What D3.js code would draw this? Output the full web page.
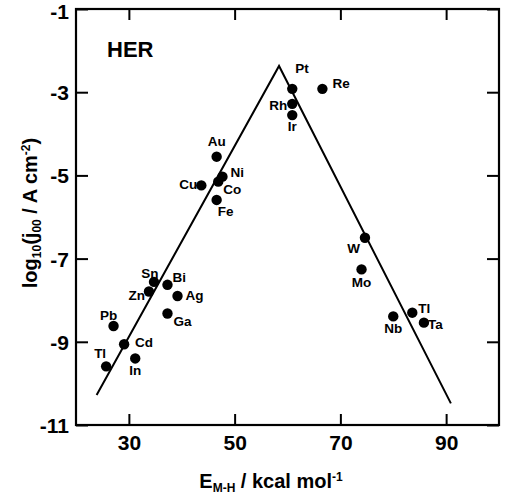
<!DOCTYPE html>
<html><head><meta charset="utf-8">
<script src="https://cdn.jsdelivr.net/npm/d3@7"></script>
<style>body{margin:0;background:#fff}svg text{font-family:"Liberation Sans",Arial,sans-serif;font-weight:bold;fill:#000}</style>
</head><body><svg id="c" width="511" height="497"></svg>
<script>
const metals = ["Pt","Re","Rh","Ir","Au","Ni","Co","Cu","Fe","W","Mo","Sn","Bi","Zn","Ag","Ga","Pb","Cd","In","Tl","Tl","Nb","Ta"];
const eMH    = [60.9,66.6,60.9,60.9,46.6,47.7,46.9,43.7,46.6,74.65,74.0,34.75,37.3,33.8,39.2,37.3,27.1,29.1,31.2,25.7,83.6,80.0,85.8];
const logJ   = [-2.92,-2.92,-3.28,-3.55,-4.55,-5.03,-5.15,-5.24,-5.59,-6.5,-7.26,-7.56,-7.63,-7.79,-7.9,-8.32,-8.62,-9.06,-9.4,-9.59,-8.3,-8.39,-8.54];
const volcanoX = [23.9, 58.4, 90.9];
const volcanoY = [-10.28, -2.37, -10.48];
const xTicks = [30, 50, 70, 90];
const yTicks = [-1, -3, -5, -7, -9, -11];

// label placement (dx, dy of baseline, anchor) per point index
const place = [[3,-16,"start"],[10,-1,"start"],[-5,6,"end"],[0,16,"middle"],[0,-11,"middle"],[8,0,"start"],[5,12,"start"],[-4,4,"end"],[1,16,"start"],[-5,15,"end"],[0,18,"middle"],[-4,-4,"middle"],[5,-3,"start"],[-4,9,"end"],[8,4,"start"],[6,12,"start"],[-5,-6,"middle"],[11,3,"start"],[0,17,"middle"],[0,-8,"end"],[6,0,"start"],[0,17,"middle"],[4,6,"start"]];

const svg = d3.select("#c");
const L=76,R=499,T=9,B=425;
const x = d3.scaleLinear().domain([20,100]).range([L,R]);
const y = d3.scaleLinear().domain([-11,-1]).range([B,T]);

const g = svg.append("g");
const xb = g.append("g").attr("transform",`translate(0,${B})`).call(d3.axisBottom(x).tickValues(xTicks).tickSize(-11).tickPadding(25).tickFormat(d3.format("d")));
g.append("g").attr("transform",`translate(0,${T})`).call(d3.axisTop(x).tickValues(xTicks).tickSize(-11).tickFormat(""));
const yl = g.append("g").attr("transform",`translate(${L},0)`).call(d3.axisLeft(y).tickValues(yTicks).tickSize(-12).tickPadding(7).tickFormat(d=>String(d)));
g.append("g").attr("transform",`translate(${R},0)`).call(d3.axisRight(y).tickValues(yTicks).tickSize(-12).tickFormat(""));
g.selectAll(".domain").remove();
g.selectAll(".tick line").attr("stroke","#000").attr("stroke-width",2);
g.selectAll(".tick text").style("font-size","21px").style("font-family","Liberation Sans, Arial, sans-serif").style("font-weight","bold").attr("fill","#000");
xb.selectAll(".tick text").attr("dy", null);
yl.selectAll(".tick text").attr("dy", d => d === -1 ? "0.45em" : "0.36em");
svg.append("rect").attr("x",L).attr("y",T).attr("width",R-L).attr("height",B-T).attr("fill","none").attr("stroke","#000").attr("stroke-width",2.2);

// volcano line
svg.append("path").datum(volcanoX.map((v,i)=>[v,volcanoY[i]]))
  .attr("d", d3.line().x(d=>x(d[0])).y(d=>y(d[1])))
  .attr("fill","none").attr("stroke","#000").attr("stroke-width",2);

// points
svg.selectAll("circle.pt").data(metals).join("circle").attr("class","pt")
  .attr("cx",(d,i)=>x(eMH[i])).attr("cy",(d,i)=>y(logJ[i])).attr("r",5.2).attr("fill","#000");
svg.selectAll("text.lb").data(metals).join("text").attr("class","lb")
  .attr("x",(d,i)=>x(eMH[i])+place[i][0]).attr("y",(d,i)=>y(logJ[i])+place[i][1])
  .attr("text-anchor",(d,i)=>place[i][2]).style("font-size","13.5px").text(d=>d);

svg.append("text").attr("x",107).attr("y",57).style("font-size","22px").text("HER");

// x title
const xt = svg.append("text").attr("x",271).attr("y",488).attr("text-anchor","middle").style("font-size","20px");
xt.append("tspan").text("E");
xt.append("tspan").attr("baseline-shift","-30%").style("font-size","12px").text("M-H");
xt.append("tspan").text(" / kcal mol");
xt.append("tspan").attr("baseline-shift","super").style("font-size","12px").text("-1");

// y title
const yt = svg.append("text").attr("transform","translate(37,213) rotate(-90)").attr("text-anchor","middle").style("font-size","20px");
yt.append("tspan").text("log");
yt.append("tspan").attr("baseline-shift","-30%").style("font-size","12px").text("10");
yt.append("tspan").text("(j");
yt.append("tspan").attr("baseline-shift","-30%").style("font-size","12px").text("00");
yt.append("tspan").text(" / A cm");
yt.append("tspan").attr("baseline-shift","super").style("font-size","12px").text("-2");
yt.append("tspan").text(")");
</script></body></html>
